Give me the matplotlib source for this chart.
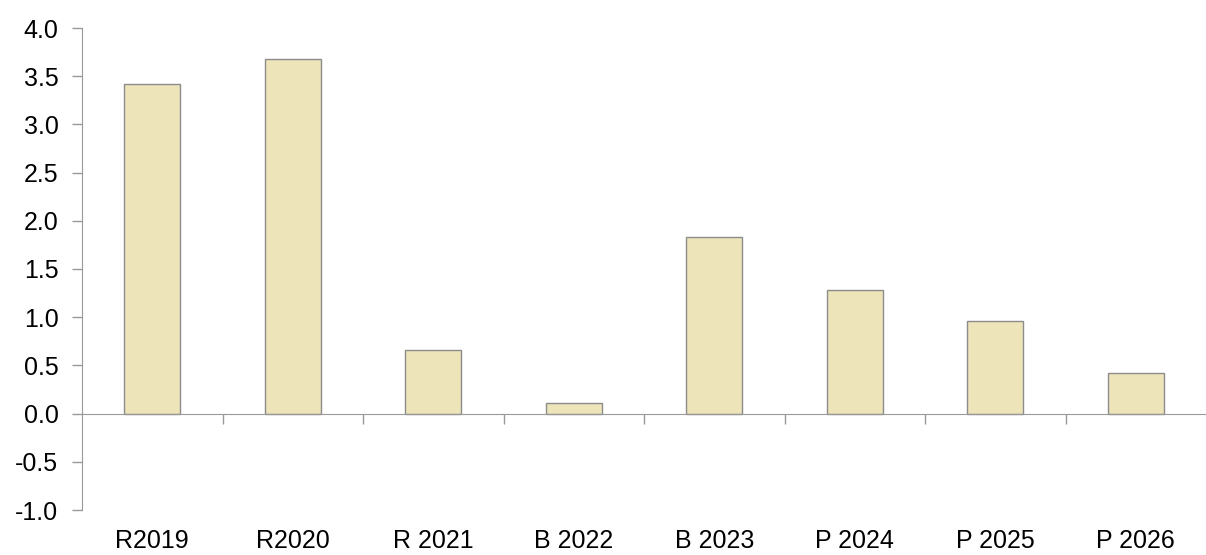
import matplotlib
matplotlib.use("Agg")
import matplotlib.pyplot as plt
import numpy as np

categories = ["R2019", "R2020", "R 2021", "B 2022", "B 2023", "P 2024", "P 2025", "P 2026"]
values = [3.42, 3.68, 0.66, 0.11, 1.83, 1.28, 0.96, 0.42]
yticks = [-1.0, -0.5, 0.0, 0.5, 1.0, 1.5, 2.0, 2.5, 3.0, 3.5, 4.0]

plt.rcParams['font.family'] = ['Liberation Sans', 'DejaVu Sans']

fig = plt.figure(figsize=(12.06, 5.55), dpi=100)
ax = fig.add_axes([82/1206, 1-510/555, 1 - 82/1206, (510-28)/555])

x = np.arange(len(categories))
spine_col = '#999999'
ax.bar(x, values, width=0.40, color='#EDE4BA', edgecolor='#8c8c8c', linewidth=1.0, zorder=2)

ax.set_xlim(-0.5, len(categories) - 0.5)
ax.set_ylim(-1.0, 4.0)
ax.set_yticks(yticks)
ax.set_yticklabels([f"{v:.1f}" for v in yticks], fontsize=18)

for s in ['top', 'right']:
    ax.spines[s].set_visible(False)
ax.spines['left'].set_color(spine_col)
ax.spines['bottom'].set_position(('data', 0))
ax.spines['bottom'].set_color(spine_col)
ax.spines['bottom'].set_zorder(3)

ax.set_xticks(np.arange(0.5, len(categories) - 0.5, 1.0))
ax.set_xticklabels([])
ax.tick_params(axis='x', direction='out', length=7, color=spine_col, width=1)
ax.tick_params(axis='y', direction='out', length=7, color=spine_col, width=1,
               pad=10, labelcolor='black')

sec = ax.secondary_xaxis(0)
sec.set_xticks(x)
sec.set_xticklabels(categories, fontsize=18)
sec.tick_params(length=0, pad=14, labelcolor='black')
sec.spines['bottom'].set_visible(False)

fig.savefig("out.png", dpi=100)
